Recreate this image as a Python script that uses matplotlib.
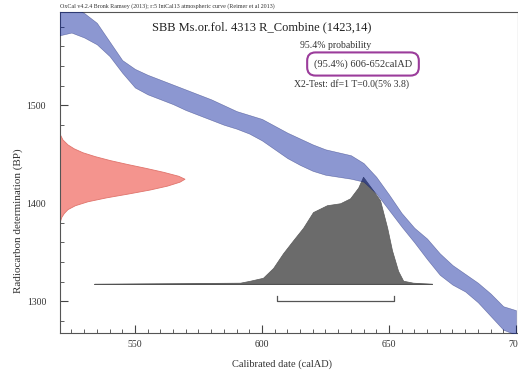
import matplotlib
matplotlib.use("Agg")
import matplotlib.pyplot as plt
import numpy as np

plt.rcParams['font.family'] = ['Liberation Serif', 'DejaVu Serif']

# calibration curve band (IntCal13), BP upper / lower edge per calendar year
curve_years = [520, 525, 530, 535, 540, 545, 550, 555, 560, 565, 570, 575, 580, 585,
               590, 595, 600, 605, 610, 615, 620, 625, 630, 635, 640, 645, 650, 655,
               660, 665, 670, 675, 680, 685, 690, 695, 700]
curve_top = [1601, 1601, 1594, 1584, 1565, 1546, 1537, 1531, 1526, 1521, 1516, 1511,
             1506, 1500, 1494, 1490, 1486, 1479, 1472, 1466, 1460, 1455, 1452, 1449,
             1441, 1427, 1409, 1390, 1375, 1364, 1349, 1337, 1328, 1319, 1308, 1295, 1291]
curve_bottom = [1571, 1574, 1569, 1562, 1550, 1533, 1518, 1511, 1506, 1501, 1495, 1490,
                1485, 1480, 1476, 1471, 1464, 1455, 1446, 1439, 1433, 1429, 1427, 1425,
                1422, 1410, 1393, 1376, 1360, 1343, 1327, 1317, 1310, 1299, 1285, 1271, 1266]

# radiocarbon date R_Combine (1423,14) - relative density vs BP
c14_bp = [1470, 1465, 1460, 1456, 1452, 1448, 1444, 1440, 1436, 1432, 1428, 1425,
          1422, 1418, 1414, 1410, 1406, 1402, 1398, 1394, 1390, 1386, 1382]
c14_rel = [0.0, 0.02, 0.06, 0.11, 0.18, 0.28, 0.40, 0.54, 0.69, 0.83, 0.95, 1.0,
           0.96, 0.86, 0.72, 0.55, 0.37, 0.22, 0.12, 0.06, 0.03, 0.01, 0.0]

# calibrated distribution (height in BP units above the baseline)
cal_years = [534, 591.4, 595.3, 600.4, 604.4, 608.3, 612.2, 616.2, 620.1, 625.6, 630.8,
             634.7, 637.9, 639.8, 643.8, 646.5, 649.3, 651.2, 653.6, 655.6, 659.5, 667]
cal_height = [0, 1, 3, 6, 16, 31, 44, 57, 73, 80, 82, 87, 98, 109, 95, 85, 57, 34, 13,
              3, 1, 0]
cal_base = 1318

range_954 = (606, 652)

W, H = 518, 373
fig = plt.figure(figsize=(W / 100, H / 100), dpi=100)
ax = fig.add_axes([60 / W, 40 / H, 458 / W, 321 / H])

xmin, xmax = 520.5, 700.8
ymin, ymax = 1267.7, 1595

# C14 date on the y axis
peak_w = 49
ax.fill_betweenx(c14_bp, xmin, xmin + peak_w * np.array(c14_rel),
                 facecolor='#F4948E', edgecolor='#E0746C', linewidth=0.6, zorder=2)

# calibrated date
ax.fill_between(cal_years, cal_base, cal_base + np.array(cal_height),
                facecolor='#6B6B6B', edgecolor='#5A5A5A', linewidth=0.5, zorder=2)
ax.plot([cal_years[0], cal_years[-1]], [cal_base, cal_base], color='#444444',
        linewidth=0.6, zorder=2)

# calibration curve
ax.fill_between(curve_years, curve_bottom, curve_top, facecolor='#001A99', alpha=0.45,
                edgecolor='#000D60', linewidth=0.4, zorder=3)

# 95.4% range bracket
yb = 1300
ax.plot([range_954[0], range_954[0], range_954[1], range_954[1]],
        [yb + 5, yb, yb, yb + 5], color='#555555', linewidth=0.9, zorder=3)

ax.set_xlim(xmin, xmax)
ax.set_ylim(ymin, ymax)
ax.set_xticks([550, 600, 650, 700])
ax.set_xticks(np.arange(525, 701, 5), minor=True)
ax.set_yticks([1300, 1400, 1500])
ax.set_yticks(np.arange(1280, 1591, 20), minor=True)
ax.tick_params(direction='in', which='major', length=6, width=0.8, labelsize=7,
               color='#444444', labelcolor='#333333')
ax.tick_params(direction='in', which='minor', length=3, width=0.6, color='#444444')
ax.tick_params(axis='x', pad=5)
ax.tick_params(axis='y', pad=10)
for s in ax.spines.values():
    s.set_linewidth(0.8)
    s.set_color('#555555')


def ft(x, y, s, **kw):
    fig.text(x / W, 1 - y / H, s, **kw)


ft(60, 6, 'OxCal v4.2.4 Bronk Ramsey (2013); r:5 IntCal13 atmospheric curve (Reimer et al 2013)',
   fontsize=4.3, ha='left', va='center', color='#333333')
ft(262, 27, 'SBB Ms.or.fol. 4313 R_Combine (1423,14)', fontsize=9, ha='center',
   va='center', color='#222222')
ft(336, 45, '95.4% probability', fontsize=7, ha='center', va='center', color='#333333')
ft(363, 64, '(95.4%) 606-652calAD', fontsize=7.5, ha='center', va='center', color='#333333',
   bbox=dict(boxstyle='round,pad=0.65,rounding_size=0.8', facecolor='white',
             edgecolor='#9B3C9B', linewidth=1.5))
ft(352, 84, 'X2-Test: df=1 T=0.0(5% 3.8)', fontsize=7, ha='center', va='center',
   color='#333333')
ft(282, 364, 'Calibrated date (calAD)', fontsize=7.5, ha='center', va='center',
   color='#333333')
ft(18, 221, 'Radiocarbon determination (BP)', fontsize=8, ha='center', va='center',
   rotation=90, color='#333333')

fig.savefig('out.png', dpi=100)
